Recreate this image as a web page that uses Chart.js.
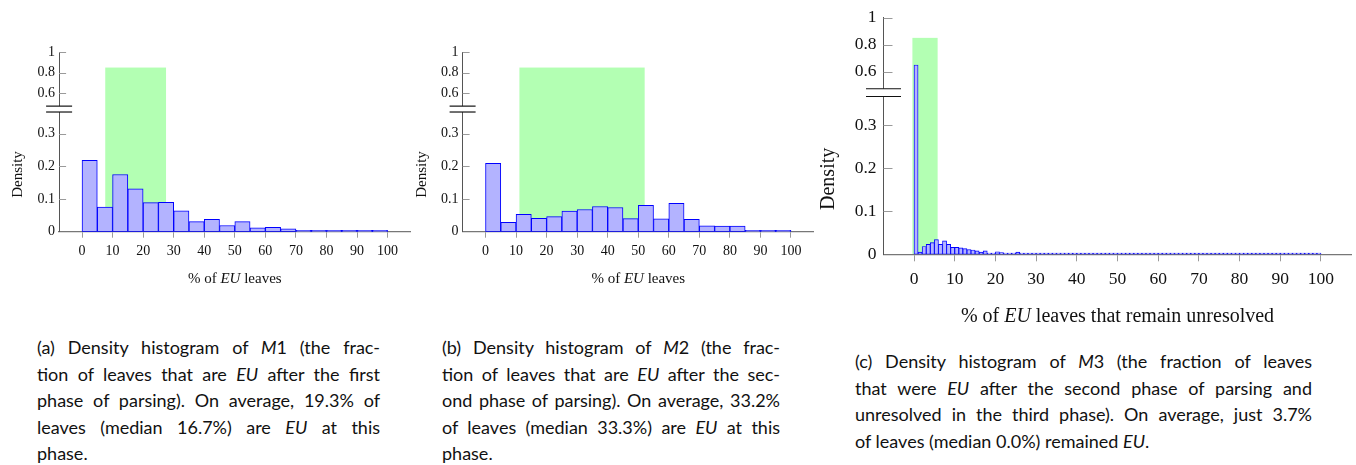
<!DOCTYPE html>
<html>
<head>
<meta charset="utf-8">
<script src="https://cdn.jsdelivr.net/npm/chart.js@4.4.1/dist/chart.umd.min.js"></script>
<style>
  body { margin: 0; background: #fff; width: 1356px; height: 465px; overflow: hidden; position: relative; }
  canvas { position: absolute; top: 0; }
  .cap { position: absolute; font-family: Lato, "Noto Sans", sans-serif; font-size: 18px; line-height: 26.6px; color: #111; }
  .cap div { text-align: justify; text-align-last: justify; white-space: nowrap; }
  .cap div.last { text-align-last: left; }
</style>
</head>
<body>
<canvas id="m1" style="left:0px"></canvas>
<canvas id="m2" style="left:410px"></canvas>
<canvas id="m3" style="left:810px"></canvas>

<div class="cap" style="left:37px; top:334px; width:343px">
  <div>(a) Density histogram of <i>M</i>1 (the frac-</div>
  <div>tion of leaves that are <i>EU</i> after the first</div>
  <div>phase of parsing). On average, 19.3% of</div>
  <div>leaves (median 16.7%) are <i>EU</i> at this</div>
  <div class="last">phase.</div>
</div>
<div class="cap" style="left:442px; top:334px; width:338px">
  <div>(b) Density histogram of <i>M</i>2 (the frac-</div>
  <div>tion of leaves that are <i>EU</i> after the sec-</div>
  <div>ond phase of parsing). On average, 33.2%</div>
  <div>of leaves (median 33.3%) are <i>EU</i> at this</div>
  <div class="last">phase.</div>
</div>
<div class="cap" style="left:855px; top:348px; width:457px">
  <div>(c) Density histogram of <i>M</i>3 (the fraction of leaves</div>
  <div>that were <i>EU</i> after the second phase of parsing and</div>
  <div>unresolved in the third phase). On average, just 3.7%</div>
  <div class="last">of leaves (median 0.0%) remained <i>EU</i>.</div>
</div>

<script>
// tick values shared by the three plots
const xTickValues = [0, 10, 20, 30, 40, 50, 60, 70, 80, 90, 100];
const yTickValues = [0, 0.1, 0.2, 0.3, 0.6, 0.8, 1];
const yTickLabels = ['0', '0.1', '0.2', '0.3', '0.6', '0.8', '1'];

// M1: bins of 5%
const binStartsM1 = [0, 5, 10, 15, 20, 25, 30, 35, 40, 45, 50, 55, 60, 65, 70, 75, 80, 85, 90, 95];
const densityM1 = [0.218, 0.075, 0.175, 0.131, 0.089, 0.090, 0.064, 0.031, 0.038, 0.019,
                   0.031, 0.012, 0.013, 0.009, 0.004, 0.004, 0.003, 0.001, 0.001, 0.001];
const shadeM1 = [7.6, 27.5];

// M2: bins of 5%
const binStartsM2 = [0, 5, 10, 15, 20, 25, 30, 35, 40, 45, 50, 55, 60, 65, 70, 75, 80, 85, 90, 95];
const densityM2 = [0.209, 0.029, 0.053, 0.041, 0.046, 0.063, 0.068, 0.077, 0.074, 0.040,
                   0.081, 0.039, 0.087, 0.038, 0.018, 0.017, 0.017, 0.004, 0.002, 0.001];
const shadeM2 = [11.1, 52.1];

// M3: bins of 1%
const binStartsM3 = Array.from({ length: 100 }, (_, i) => i);
const densityM3 = [
  0.650, 0.005, 0.018, 0.023, 0.027, 0.034, 0.023, 0.031, 0.023, 0.016,
  0.016, 0.015, 0.013, 0.011, 0.010, 0.008, 0.005, 0.008, 0.003, 0.002,
  0.006, 0.004, 0.003, 0.002, 0.002, 0.005, 0.002, 0.002, 0.001, 0.001,
  0.001, 0.001, 0.001, 0.003, 0.001, 0, 0, 0, 0, 0,
  0, 0, 0, 0, 0, 0, 0, 0, 0, 0,
  0.001, 0, 0, 0, 0, 0, 0, 0, 0, 0,
  0, 0, 0, 0, 0, 0, 0, 0, 0, 0,
  0, 0, 0, 0, 0, 0, 0, 0, 0, 0,
  0, 0, 0, 0, 0, 0, 0, 0, 0, 0,
  0, 0, 0, 0, 0, 0, 0, 0, 0, 0
];
const shadeM3 = [-0.4, 5.8];
const shadeTop = 0.85;

// broken y axis: 0..0.36 linear, then 0.5..1 compressed above the break
function toAxis(v) {
  return v <= 0.36 ? v : 0.4232 + (v - 0.6) * 0.315;
}

const serif = '"Liberation Serif", "DejaVu Serif", serif';

const histPlugin = {
  id: 'hist',
  beforeDraw(chart, args, o) {
    const { ctx, scales: { x, y } } = chart;
    const x0 = x.getPixelForValue(o.shade[0]), x1 = x.getPixelForValue(o.shade[1]);
    const yt = y.getPixelForValue(toAxis(shadeTop)), yb = y.getPixelForValue(0);
    ctx.save();
    ctx.fillStyle = '#b3ffb3';
    ctx.fillRect(x0, yt, x1 - x0, yb - yt);
    ctx.restore();
  },
  afterDraw(chart, args, o) {
    const { ctx, chartArea: a, scales: { x, y } } = chart;
    ctx.save();
    // inward y ticks
    ctx.strokeStyle = '#9a9a9a';
    ctx.lineWidth = 1;
    y.ticks.forEach(t => {
      if (t.value === 0) return;
      const py = Math.round(y.getPixelForValue(t.value)) + 0.5;
      ctx.beginPath();
      ctx.moveTo(a.left, py);
      ctx.lineTo(a.left + o.yTickLen, py);
      ctx.stroke();
    });
    // axis break
    const b1 = y.getPixelForValue(0.384), b2 = y.getPixelForValue(0.366);
    ctx.fillStyle = '#fff';
    ctx.fillRect(a.left - 2, b1, 4, b2 - b1);
    ctx.strokeStyle = '#111';
    ctx.lineWidth = 1.2;
    [b1, b2].forEach(py => {
      ctx.beginPath();
      ctx.moveTo(a.left - o.breakHalf, py);
      ctx.lineTo(a.left + o.breakHalf, py);
      ctx.stroke();
    });
    // y title, centred on the lower segment
    ctx.fillStyle = '#111';
    ctx.font = o.titleSize + 'px ' + serif;
    ctx.textAlign = 'center';
    ctx.textBaseline = 'middle';
    ctx.translate(a.left - o.yTitleOffset, (y.getPixelForValue(0) + y.getPixelForValue(0.35)) / 2);
    ctx.rotate(-Math.PI / 2);
    ctx.fillText('Density', 0, 0);
    ctx.restore();
    // x title with italic EU
    ctx.save();
    ctx.fillStyle = '#111';
    ctx.textBaseline = 'middle';
    ctx.textAlign = 'left';
    const fonts = o.xTitle.map(p => (p[1] ? 'italic ' : '') + o.titleSize + 'px ' + serif);
    let total = 0;
    const widths = o.xTitle.map((p, i) => { ctx.font = fonts[i]; const w = ctx.measureText(p[0]).width; total += w; return w; });
    let px = (a.left + a.right) / 2 - total / 2;
    const py = a.bottom + o.xTitleOffset;
    o.xTitle.forEach((p, i) => { ctx.font = fonts[i]; ctx.fillText(p[0], px, py); px += widths[i]; });
    ctx.restore();
  }
};

function makeHist(id, starts, binWidth, values, shade, s) {
  const canvas = document.getElementById(id);
  canvas.width = s.w; canvas.height = s.h;
  canvas.style.width = s.w + 'px'; canvas.style.height = s.h + 'px';
  return new Chart(canvas, {
    type: 'bar',
    data: {
      datasets: [{
        data: starts.map((b, i) => ({ x: b + binWidth / 2, y: toAxis(values[i]) })),
        backgroundColor: '#b3b3ff',
        borderColor: '#0000ff',
        borderWidth: s.bw,
        borderSkipped: false,
        barPercentage: 1,
        categoryPercentage: 1,
        minBarLength: 1.3
      }]
    },
    options: {
      responsive: false,
      animation: false,
      layout: { padding: s.pad },
      plugins: {
        legend: { display: false },
        tooltip: { enabled: false },
        hist: { shade: shade, yTickLen: s.yTickLen, breakHalf: s.breakHalf, titleSize: s.titleSize,
                yTitleOffset: s.yTitleOffset, xTitleOffset: s.xTitleOffset, xTitle: s.xTitle }
      },
      scales: {
        x: {
          type: 'linear', min: -7.5, max: 107.5, offset: false,
          afterBuildTicks: sc => { sc.ticks = xTickValues.map(v => ({ value: v })); },
          afterFit: sc => { sc.height = s.xH; },
          grid: { drawOnChartArea: false, offset: false, tickLength: s.xTickLen, color: '#9a9a9a', lineWidth: 1 },
          border: { color: '#777', width: 1.3 },
          ticks: { font: { family: serif, size: s.tickSize }, color: '#111', padding: s.xPad, maxRotation: 0, autoSkip: false }
        },
        y: {
          min: 0, max: toAxis(1),
          afterBuildTicks: sc => { sc.ticks = yTickValues.map(v => ({ value: toAxis(v) })); },
          afterFit: sc => { sc.width = s.yW; },
          grid: { display: false, drawTicks: false },
          border: { color: '#555', width: 1 },
          ticks: { callback: (v, i) => yTickLabels[i], font: { family: serif, size: s.tickSize }, color: '#111', padding: s.yPad }
        }
      }
    },
    plugins: [histPlugin]
  });
}

const smallStyle = {
  w: 420, h: 300, xH: 60, bw: 1, xTickLen: 6, xPad: 5, yPad: 4, tickSize: 14, titleSize: 15,
  yTickLen: 7, breakHalf: 13, yTitleOffset: 41, xTitleOffset: 47,
  xTitle: [['% of ', false], ['EU', true], [' leaves', false]]
};

makeHist('m1', binStartsM1, 5, densityM1, shadeM1,
  Object.assign({}, smallStyle, { pad: { left: 0, top: 52.1, right: 9.5, bottom: 8.3 }, yW: 59.1 }));

makeHist('m2', binStartsM2, 5, densityM2, shadeM2,
  Object.assign({}, smallStyle, { w: 410, pad: { left: 0, top: 52.1, right: 6.1, bottom: 8.3 }, yW: 52.6 }));

makeHist('m3', binStartsM3, 1, densityM3, shadeM3, {
  w: 546, h: 340, xH: 75, bw: 0.9, xTickLen: 7, xPad: 8, yPad: 7, tickSize: 17.5, titleSize: 20,
  yTickLen: 9, breakHalf: 17.5, yTitleOffset: 54.5, xTitleOffset: 62.5,
  xTitle: [['% of ', false], ['EU', true], [' leaves that remain unresolved', false]],
  pad: { left: 0, top: 14.3, right: 4.5, bottom: 10.7 }, yW: 73.5
});
</script>
</body>
</html>
